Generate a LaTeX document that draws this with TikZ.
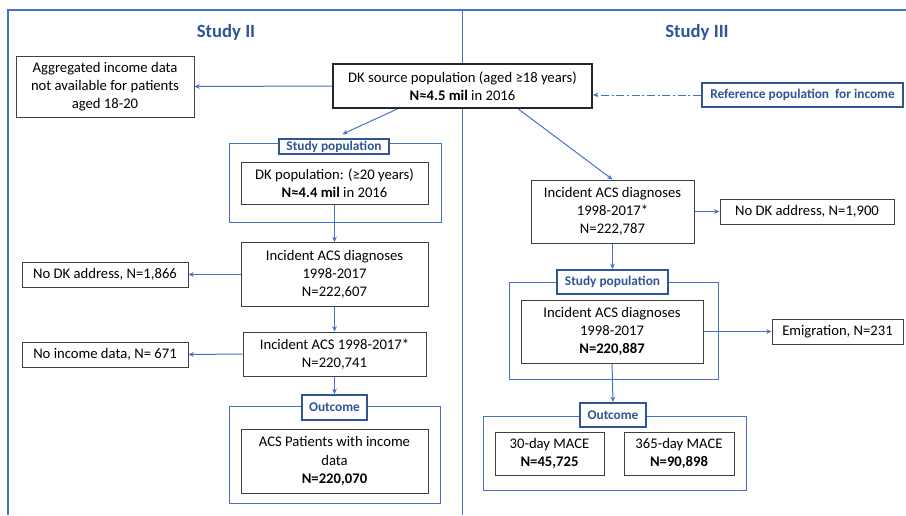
\documentclass[tikz,border=0pt]{standalone}
\usepackage{fontspec}
\setmainfont{Carlito}
\usetikzlibrary{arrows.meta,calc}
\definecolor{framblue}{HTML}{4472C4}
\definecolor{darkblue}{HTML}{2F5597}

\begin{document}
\begin{tikzpicture}
  [x=0.75pt,y=-0.75pt,
   every node/.style={align=center,inner sep=0pt,font=\fontsize{11pt}{13.6pt}\selectfont},
   wh/.style 2 args={minimum width=#1*0.75pt,minimum height=#2*0.75pt},
   box/.style={draw=black!75,line width=0.75pt,fill=white},
   srcbox/.style={draw=black!85,line width=1.5pt,fill=white},
   tag/.style={draw=darkblue,line width=1.5pt,fill=white,text=darkblue,
     font=\fontsize{10pt}{12pt}\selectfont\bfseries},
   group/.style={draw=framblue,line width=0.75pt},
   title/.style={text=darkblue,font=\fontsize{14pt}{16pt}\selectfont\bfseries},
   flow/.style={draw=framblue,line width=0.75pt,-{Stealth[length=4pt,width=3.5pt]}}]
  \useasboundingbox (0,0) rectangle (906,515);

  % frame
  \draw[framblue,line width=1pt] (8,515) -- (8,10) -- (906,10);
  \draw[framblue,line width=0.75pt] (462,10) -- (462,515);
  \node[title] (t2) at (226,32) {Study II};
  \node[title] (t3) at (697,32) {Study III};

  % groups
  \node[group,wh={212}{79}] (grpL1) at (335,182.5) {};
  \node[group,wh={211}{97}] (grpL2) at (334.5,454.5) {};
  \node[group,wh={209}{97}] (grpR1) at (613.5,330.5) {};
  \node[group,wh={263}{74}] (grpR2) at (614.5,453) {};

  % study II
  \node[srcbox,wh={259}{44}] (dksrc) at (462.5,86) {DK source population (aged ≥18 years)\\\textbf{N≈4.5 mil} in 2016};
  \node[box,wh={178}{61}] (agg) at (105,86.5) {Aggregated income data\\not available for patients\\aged 18-20};
  \node[tag,wh={110}{15}] (tagL1) at (334,146.5) {Study population};
  \node[box,wh={187}{42}] (dkpop) at (334.5,183) {DK population: (≥20 years)\\\textbf{N≈4.4 mil} in 2016};
  \node[box,wh={187}{64}] (incL) at (334.5,274.5) {Incident ACS diagnoses\\1998-2017\\N=222,607};
  \node[box,wh={166}{25}] (nodkL) at (105,274.5) {No DK address, N=1,866};
  \node[box,wh={183}{44}] (starL) at (334.5,354) {Incident ACS 1998-2017*\\N=220,741};
  \node[box,wh={166}{25}] (noinc) at (105,354.5) {No income data, N= 671};
  \node[tag,wh={65}{25}] (tagL2) at (334.5,407.5) {Outcome};
  \node[box,wh={187}{64}] (acs) at (334.5,461) {ACS Patients with income\\data\\\textbf{N=220,070}};

  % study III
  \node[tag,wh={201}{24}] (ref) at (802.5,95) {Reference population\ \ for income};
  \node[box,wh={163}{63}] (incR) at (612.5,211.5) {Incident ACS diagnoses\\1998-2017*\\N=222,787};
  \node[box,wh={174}{25}] (nodkR) at (807,211.5) {No DK address, N=1,900};
  \node[tag,wh={111}{24}] (tagR1) at (612.5,282) {Study population};
  \node[box,wh={182}{63}] (mainR) at (612,331.5) {Incident ACS diagnoses\\1998-2017\\\textbf{N=220,887}};
  \node[box,wh={131}{25}] (emig) at (837.5,331.5) {Emigration, N=231};
  \node[tag,wh={66}{24}] (tagR2) at (613,415) {Outcome};
  \node[box,wh={109}{43}] (mace30) at (549.5,453.5) {30-day MACE\\\textbf{N=45,725}};
  \node[box,wh={110}{43}] (mace365) at (679,453.5) {365-day MACE\\\textbf{N=90,898}};

  \foreach \from/\to in {dksrc.west/agg.east,dkpop.south/incL.north,incL.west/nodkL.east,
      incL.south/starL.north,starL.west/noinc.east,starL.south/tagL2.north,
      incR.east/nodkR.west,incR.south/tagR1.north,mainR.east/emig.west,mainR.south/tagR2.north}
    \draw[flow] (\from) -- (\to);

  \draw[flow,shorten >=7pt] ($(dksrc.south west)!0.25!(dksrc.south east)$) -- (tagL1.north);
  \draw[flow] ($(dksrc.south west)!0.714!(dksrc.south east)$) -- (incR.north);
  \draw[flow,dash pattern=on 6pt off 2pt on 1.5pt off 2pt] (ref.west) -- (ref.west -| dksrc.east);

\end{tikzpicture}
\end{document}
